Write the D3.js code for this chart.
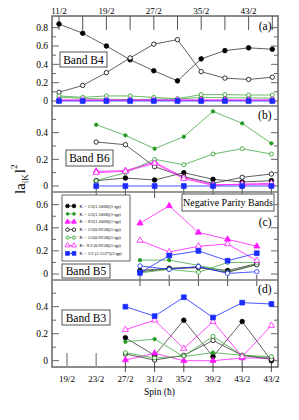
<!DOCTYPE html>
<html>
<head>
<meta charset="utf-8">
<script src="https://cdn.jsdelivr.net/npm/d3@7"></script>
<style>
  body { margin: 0; background: #fff; }
  text { font-family: "Liberation Serif", "DejaVu Serif", serif; fill: #000; }
</style>
</head>
<body>
<script>
// spins are stored as 2I (so 11 means 11/2)
var topTicks = [11, 15, 19, 23, 27, 31, 35, 39, 43, 47];
var topLabels = ['11/2', '', '19/2', '', '27/2', '', '35/2', '', '43/2', ''];
var bottomTicks = [19, 23, 27, 31, 35, 39, 43, 47];
var bottomLabels = ['19/2', '23/2', '27/2', '31/2', '35/2', '39/2', '43/2', '43/2'];

var legendLabels = [
  'K = 1/2(1.1068)(1-qp)',
  'K = 5/2(1.1068)(1-qp)',
  'K = 9/2(1.1068)(1-qp)',
  'K = 1/2(0.9258)(1-qp)',
  'K = 5/2(0.9258)(1-qp)',
  'K= 9/2 (0.9258)(1-qp)',
  'K = 1/2 (2.1537)(3-qp)'
];

// panel (a) Band B4
var spinsA = [11, 15, 19, 23, 27, 31, 35, 39, 43, 47];
var aK12w = [0.84, 0.74, 0.60, 0.45, 0.33, 0.22, 0.46, 0.55, 0.58, 0.565];
var aK52w = [0.04, 0.03, 0.02, 0.015, 0.02, 0.02, 0.04, 0.035, 0.035, 0.03];
var aK92w = [0.012, 0.012, 0.012, 0.012, 0.012, 0.012, 0.012, 0.012, 0.012, 0.012];
var aK12n = [0.095, 0.17, 0.31, 0.47, 0.62, 0.67, 0.32, 0.25, 0.235, 0.26];
var aK52n = [0.055, 0.04, 0.055, 0.055, 0.04, 0.025, 0.07, 0.07, 0.065, 0.065];
var aK92n = [0.008, 0.008, 0.008, 0.008, 0.008, 0.008, 0.008, 0.008, 0.008, 0.008];
var aK12q = [0, 0, 0, 0, 0, 0, 0, 0, 0, 0];

// panel (b) Band B6
var spinsB = [23, 27, 31, 35, 39, 43, 47];
var bK12w = [0.04, 0.06, 0.045, 0.10, 0.05, 0.03, 0.04];
var bK52w = [0.46, 0.38, 0.28, 0.37, 0.56, 0.47, 0.32];
var bK92w = [0.11, 0.115, 0.18, 0.065, 0.01, 0.01, 0.01];
var bK12n = [0.33, 0.31, 0.145, 0.07, 0.02, 0.065, 0.09];
var bK52n = [0.04, 0.10, 0.20, 0.16, 0.24, 0.28, 0.24];
var bK92n = [0.10, 0.11, 0.17, 0.055, 0.005, 0.015, 0.02];
var bK12q = [0, 0, 0, 0, 0, 0, 0];

// panel (c) Band B5
var spinsC = [29, 33, 37, 41, 45];
var cK12w = [0.03, 0.05, 0.06, 0.03, 0.09];
var cK52w = [0.12, 0.12, 0.075, 0.02, 0.085];
var cK92w = [0.44, 0.59, 0.36, 0.30, 0.24];
var cK12n = [0.02, 0.045, 0.055, 0.015, 0.08];
var cK52n = [0.01, 0.04, 0.015, 0.10, 0.10];
var cK92n = [0.29, 0.19, 0.24, 0.26, 0.115];
var cK12o = [0.07, 0.04, 0.065, 0.005, 0.02];
var cK12q = [0.01, 0.16, 0.20, 0.115, 0.18];

// panel (d) Band B3
var spinsD = [27, 31, 35, 39, 43, 47];
var dK12w = [0.17, 0.04, 0.30, 0.03, 0.29, 0.0];
var dK52w = [0.14, 0.16, 0.03, 0.06, 0.04, 0.02];
var dK92w = [0.005, 0.055, 0.0, 0.0, 0.02, 0.02];
var dK12n = [0.05, 0.005, 0.04, 0.15, 0.04, 0.01];
var dK52n = [0.06, 0.02, 0.035, 0.18, 0.04, 0.03];
var dK92n = [0.23, 0.30, 0.09, 0.29, 0.03, 0.26];
var dK12q = [0.40, 0.33, 0.47, 0.32, 0.43, 0.42];

var GREEN = '#1f9a1f', GREENL = '#45a845', MAG = '#ff1aff', BLUE = '#1a2cff', DARK = '#3a3a3a';
var styles = {
  K12w: { stroke: '#000', line: DARK, shape: 'circle', fill: true, size: 2.3 },
  K52w: { stroke: GREEN, line: GREENL, shape: 'circle', fill: true, size: 1.7 },
  K92w: { stroke: MAG, line: MAG, shape: 'triangle', fill: true, size: 3.2 },
  K12n: { stroke: '#000', line: DARK, shape: 'circle', fill: false, size: 2.2 },
  K52n: { stroke: GREEN, line: GREENL, shape: 'circle', fill: false, size: 2.0 },
  K92n: { stroke: MAG, line: MAG, shape: 'triangle', fill: false, size: 3.2 },
  K12o: { stroke: BLUE, line: BLUE, shape: 'circle', fill: false, size: 2.2 },
  K12q: { stroke: BLUE, line: BLUE, shape: 'square', fill: true, size: 3.2 }
};
var legendKeys = ['K12w', 'K52w', 'K92w', 'K12n', 'K52n', 'K92n', 'K12q'];

var L = 52, R = 278;
var svg = d3.select('body').append('svg').attr('width', 299).attr('height', 420);

var xTop = d3.scaleLinear().domain([11, 47]).range([59, 272.3]);
var xBot = d3.scaleLinear().domain([19, 47]).range([67, 271.4]);

var panels = [
  { top: 16, bottom: 106, y: d3.scaleLinear().domain([0, 0.8]).range([101, 27.7]), max: 0.8, x: xTop, spins: spinsA,
    series: { K12w: aK12w, K52w: aK52w, K92w: aK92w, K12n: aK12n, K52n: aK52n, K92n: aK92n, K12q: aK12q },
    letter: '(a)', letterY: 30, band: 'Band B4', box: [60, 52, 47, 15] },
  { top: 106, bottom: 192, y: d3.scaleLinear().domain([0, 0.4]).range([186, 132.7]), max: 0.6, x: xBot, spins: spinsB,
    series: { K12w: bK12w, K52w: bK52w, K92w: bK92w, K12n: bK12n, K52n: bK52n, K92n: bK92n, K12q: bK12q },
    letter: '(b)', letterY: 118.5, band: 'Band B6', box: [66, 150, 47, 16], tickCross: 192 },
  { top: 192, bottom: 280, y: d3.scaleLinear().domain([0, 0.6]).range([274, 204.7]), max: 0.7, x: xBot, spins: spinsC,
    series: { K12w: cK12w, K52w: cK52w, K92w: cK92w, K12n: cK12n, K52n: cK52n, K92n: cK92n, K12o: cK12o, K12q: cK12q },
    letter: '(c)', letterY: 226, band: 'Band B5', box: [62, 264, 48, 14], tickCross: 280 },
  { top: 280, bottom: 367, y: d3.scaleLinear().domain([0, 0.4]).range([360.7, 306.7]), max: 0.55, x: xBot, spins: spinsD,
    series: { K12w: dK12w, K52w: dK52w, K92w: dK92w, K12n: dK12n, K52n: dK52n, K92n: dK92n, K12q: dK12q },
    letter: '(d)', letterY: 293, band: 'Band B3', box: [62, 310, 48, 15] }
];

function marker(g, st, cx, cy) {
  var fill = st.fill ? st.stroke : '#fff';
  if (st.shape === 'circle') {
    g.append('circle').attr('cx', cx).attr('cy', cy).attr('r', st.size)
      .attr('fill', fill).attr('stroke', st.stroke).attr('stroke-width', 0.8);
  } else {
    var type = st.shape === 'square' ? d3.symbolSquare : d3.symbolTriangle;
    var area = st.shape === 'square' ? st.size * st.size * 4 * 0.55 : st.size * st.size * 1.6;
    g.append('path').attr('d', d3.symbol().type(type).size(area)())
      .attr('transform', 'translate(' + cx + ',' + cy + ')')
      .attr('fill', fill).attr('stroke', st.stroke).attr('stroke-width', 0.8);
  }
}

var frame = svg.append('g');
var plot = svg.append('g');

panels.forEach(function (p) {
  // y ticks, inward on both sides
  var minor = d3.range(0, p.max + 0.001, 0.1);
  minor.forEach(function (v) {
    var yy = p.y(v);
    if (yy < p.top + 2 || yy > p.bottom - 1) return;
    var major = Math.round(v * 10) % 2 === 0;
    var len = major ? 7 : 4;
    frame.append('line').attr('x1', L).attr('x2', L + len).attr('y1', yy).attr('y2', yy)
      .attr('stroke', '#666').attr('stroke-width', 1);
    frame.append('line').attr('x1', R).attr('x2', R - len).attr('y1', yy).attr('y2', yy)
      .attr('stroke', '#666').attr('stroke-width', 1);
  });
  var labelTicks = p.y.ticks(5).filter(function (v) { return Math.round(v * 10) % 2 === 0; });
  frame.selectAll(null).data(labelTicks).enter().append('text')
    .attr('x', 48).attr('y', function (d) { return p.y(d); }).attr('dy', '0.35em')
    .attr('text-anchor', 'end').attr('font-size', 9.5)
    .text(function (d) { return d === 0 ? '0' : d3.format('.1f')(d); });

  // data ticks crossing the separator
  if (p.tickCross) {
    p.spins.forEach(function (s) {
      frame.append('line').attr('x1', p.x(s)).attr('x2', p.x(s))
        .attr('y1', p.tickCross - 5).attr('y2', p.tickCross + 6)
        .attr('stroke', '#222').attr('stroke-width', 0.8);
    });
  }

  // series lines + markers
  Object.keys(p.series).forEach(function (key) {
    var st = styles[key], vals = p.series[key];
    var pts = vals.map(function (v, i) { return [p.x(p.spins[i]), p.y(v)]; });
    plot.append('path').attr('d', d3.line()(pts)).attr('fill', 'none')
      .attr('stroke', st.line).attr('stroke-width', 0.8);
  });
  Object.keys(p.series).forEach(function (key) {
    var st = styles[key], vals = p.series[key];
    vals.forEach(function (v, i) { marker(plot, st, p.x(p.spins[i]), p.y(v)); });
  });

  // panel letter and band box
  svg.append('text').attr('x', 271.5).attr('y', p.letterY).attr('text-anchor', 'end')
    .attr('font-size', 11.5).text(p.letter);
  svg.append('rect').attr('x', p.box[0]).attr('y', p.box[1]).attr('width', p.box[2]).attr('height', p.box[3])
    .attr('fill', '#fff').attr('stroke', '#555').attr('stroke-width', 1);
  svg.append('text').attr('x', p.box[0] + p.box[2] / 2).attr('y', p.box[1] + p.box[3] / 2).attr('dy', '0.35em')
    .attr('text-anchor', 'middle').attr('font-size', 11.5).text(p.band);
});

// frame and separators
frame.append('rect').attr('x', L).attr('y', 16).attr('width', R - L).attr('height', 367 - 16)
  .attr('fill', 'none').attr('stroke', '#666').attr('stroke-width', 1.5);
[106, 192, 280].forEach(function (yy) {
  frame.append('line').attr('x1', L).attr('x2', R).attr('y1', yy).attr('y2', yy)
    .attr('stroke', '#777').attr('stroke-width', 1.5);
});

// top axis (panel a)
var topAxis = frame.append('g');
topTicks.forEach(function (s, i) {
  topAxis.append('line').attr('x1', xTop(s)).attr('x2', xTop(s)).attr('y1', 16).attr('y2', 30)
    .attr('stroke', '#444').attr('stroke-width', 0.9);
  if (topLabels[i]) {
    topAxis.append('text').attr('x', xTop(s)).attr('y', 13.5).attr('text-anchor', 'middle')
      .attr('font-size', 9).text(topLabels[i]);
  }
});

// bottom axis (panel d)
var botAxis = frame.append('g');
bottomTicks.forEach(function (s, i) {
  var hasData = spinsD.indexOf(s) >= 0;
  botAxis.append('line').attr('x1', xBot(s)).attr('x2', xBot(s))
    .attr('y1', hasData ? 357 : 353).attr('y2', hasData ? 372 : 367)
    .attr('stroke', hasData ? '#222' : '#999').attr('stroke-width', hasData ? 0.8 : 1.5);
  botAxis.append('text').attr('x', xBot(s)).attr('y', 382).attr('text-anchor', 'middle')
    .attr('font-size', 9).text(bottomLabels[i]);
});

svg.append('text').attr('x', 144).attr('y', 395).attr('font-size', 9.5).text('Spin (\u0127)');

// y title |a_iK|^2
var yt = svg.append('text').attr('transform', 'translate(25,194) rotate(-90)').attr('font-size', 15);
yt.append('tspan').text('la');
yt.append('tspan').attr('font-size', 9).attr('dy', 3).text('iK');
yt.append('tspan').attr('dy', -3).attr('dx', 1).text('l');
yt.append('tspan').attr('font-size', 9).attr('dy', -8).text('2');

// legend
var lg = svg.append('g');
lg.append('rect').attr('x', 62).attr('y', 195).attr('width', 68).attr('height', 66)
  .attr('fill', '#fff').attr('stroke', '#555').attr('stroke-width', 0.9);
legendKeys.forEach(function (key, i) {
  var st = styles[key], yy = 206 + i * 7.9;
  lg.append('line').attr('x1', 67.5).attr('x2', 74).attr('y1', yy).attr('y2', yy)
    .attr('stroke', st.line).attr('stroke-width', 0.8);
  var small = Object.assign({}, st, { size: st.size * 0.8 });
  marker(lg, small, 67.5, yy);
  marker(lg, small, 74, yy);
  lg.append('text').attr('x', 79.5).attr('y', yy).attr('dy', '0.35em').attr('font-size', 4.6)
    .text(legendLabels[i]);
});

// negative parity box
svg.append('rect').attr('x', 182).attr('y', 194).attr('width', 92).attr('height', 17)
  .attr('fill', '#fff').attr('stroke', '#555').attr('stroke-width', 1);
svg.append('text').attr('x', 228).attr('y', 202.5).attr('dy', '0.35em').attr('text-anchor', 'middle')
  .attr('font-size', 10).text('Negative Parity Bands');
</script>
</body>
</html>
